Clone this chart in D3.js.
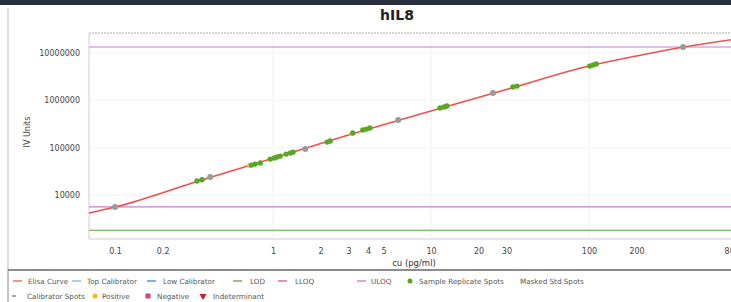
<!DOCTYPE html>
<html>
<head>
<meta charset="utf-8">
<script src="https://cdn.jsdelivr.net/npm/d3@7"></script>
<style>
  body { margin: 0; background: #fff; }
  svg { display: block; font-family: "DejaVu Sans", Verdana, sans-serif; }
</style>
</head>
<body>
<div id="chart"></div>
<script>
var svgWidth = 731;
var svgHeight = 302;

var margin = { top: 33, right: -16, bottom: 63, left: 89 };
var chartWidth = svgWidth - margin.left - margin.right;
var chartHeight = svgHeight - margin.top - margin.bottom;

// data
var xTicks = [0.1, 0.2, 1, 2, 3, 4, 5, 10, 20, 30, 100, 200, 800];
var yTicks = [10000, 100000, 1000000, 10000000];

var curveConc   = [0.0684, 0.1, 0.35, 1, 3, 10, 30, 100, 200, 400, 1000];
var curveSignal = [4140, 5550, 20600, 59800, 185000, 594000, 1690000, 5300000, 8650000, 13400000, 21400000];

var sampleConc   = [0.33, 0.355, 0.73, 0.77, 0.83, 0.96, 1.02, 1.06, 1.11, 1.21, 1.29, 1.34, 2.2, 2.3, 3.2, 3.7, 3.9, 4.1, 11.4, 12.1, 12.6, 33, 35, 101, 106, 111];
var sampleSignal = [19700, 21000, 42800, 45000, 47300, 57400, 60300, 63300, 66300, 73200, 76900, 80700, 131000, 138000, 204000, 236000, 247000, 260000, 688000, 722000, 758000, 1910000, 2000000, 5300000, 5580000, 5850000];

var calibConc   = [0.1, 0.4, 1.6, 6.2, 24.7, 394];
var calibSignal = [5550, 23900, 93400, 384000, 1430000, 13400000];

var positiveConc   = [0.71, 3.15];
var positiveSignal = [42000, 200000];

var uloq = 13400000;
var lloq = 5600;
var lod = 1800;

var svg = d3.select("#chart")
    .append("svg")
    .attr("width", svgWidth)
    .attr("height", svgHeight);

// top dark strip and panel frame
svg.append("rect").attr("x", 0).attr("y", 0).attr("width", svgWidth).attr("height", 5).attr("fill", "#2b3040");
svg.append("line").attr("x1", 8).attr("x2", 8).attr("y1", 8).attr("y2", 270).attr("stroke", "#bbb");

svg.append("text")
    .attr("x", 397)
    .attr("y", 20)
    .attr("text-anchor", "middle")
    .attr("font-size", 14)
    .attr("font-weight", "bold")
    .attr("fill", "#222")
    .text("hIL8");

var chartGroup = svg.append("g")
    .attr("transform", `translate(${margin.left}, ${margin.top})`);

var xLogScale = d3.scaleLog()
    .domain([0.0684, 1000])
    .range([0, chartWidth]);

var yLogScale = d3.scaleLog()
    .domain([1175, 26500000])
    .range([chartHeight, 0]);

// faint grid
chartGroup.append("g")
    .selectAll("line")
    .data([1, 10, 100])
    .enter()
    .append("line")
    .attr("x1", d => xLogScale(d))
    .attr("x2", d => xLogScale(d))
    .attr("y1", 0)
    .attr("y2", chartHeight)
    .attr("stroke", "#f0f0f0");

chartGroup.append("g")
    .selectAll("line")
    .data(yTicks)
    .enter()
    .append("line")
    .attr("x1", 0)
    .attr("x2", chartWidth)
    .attr("y1", d => yLogScale(d))
    .attr("y2", d => yLogScale(d))
    .attr("stroke", "#f3f3f3");

// frame
chartGroup.append("line").attr("x1", 0).attr("x2", chartWidth).attr("y1", 0).attr("y2", 0)
    .attr("stroke", "#aaa").attr("stroke-dasharray", "2,1");
chartGroup.append("line").attr("x1", 0).attr("x2", chartWidth).attr("y1", chartHeight).attr("y2", chartHeight)
    .attr("stroke", "#ccc");
chartGroup.append("line").attr("x1", 0).attr("x2", 0).attr("y1", 0).attr("y2", chartHeight)
    .attr("stroke", "#d8c8d0");

var bottomAxis = d3.axisBottom(xLogScale)
    .tickValues(xTicks)
    .tickFormat(d => d)
    .tickSize(0)
    .tickPadding(9);

var leftAxis = d3.axisLeft(yLogScale)
    .tickValues(yTicks)
    .tickFormat(d3.format("d"))
    .tickSize(0)
    .tickPadding(9);

var xAxis = chartGroup.append("g")
    .attr("transform", `translate(0, ${chartHeight})`)
    .call(bottomAxis);

var yAxis = chartGroup.append("g")
    .call(leftAxis);

[xAxis, yAxis].forEach(function(axis) {
    axis.select(".domain").remove();
    axis.selectAll("text")
        .attr("font-family", "DejaVu Sans, sans-serif")
        .attr("font-size", 8)
        .attr("fill", "#444");
});

chartGroup.append("text")
    .attr("x", chartWidth / 2 - 4)
    .attr("y", chartHeight + 27)
    .attr("text-anchor", "middle")
    .attr("font-size", 8.5)
    .attr("fill", "#333")
    .text("cu (pg/ml)");

chartGroup.append("text")
    .attr("transform", "rotate(-90)")
    .attr("x", -(chartHeight / 2) + 4)
    .attr("y", -59)
    .attr("text-anchor", "middle")
    .attr("font-size", 8)
    .attr("fill", "#444")
    .text("IV Units");

// reference lines
var refLines = [
    { v: uloq, color: "#c77ccf" },
    { v: lloq, color: "#c77ccf" },
    { v: lod, color: "#55aa33" }
];
chartGroup.append("g")
    .selectAll("line")
    .data(refLines)
    .enter()
    .append("line")
    .attr("x1", 0)
    .attr("x2", chartWidth)
    .attr("y1", d => yLogScale(d.v))
    .attr("y2", d => yLogScale(d.v))
    .attr("stroke", d => d.color)
    .attr("stroke-width", 1.1);

// elisa curve
var curveData = curveConc.map((c, i) => ({ x: c, y: curveSignal[i] }));
var createLine = d3.line()
    .x(d => xLogScale(d.x))
    .y(d => yLogScale(d.y))
    .curve(d3.curveMonotoneX);

chartGroup.append("path")
    .attr("fill", "none")
    .attr("stroke", "#f0504a")
    .attr("stroke-width", 1.6)
    .attr("d", createLine(curveData));

// spots
chartGroup.append("g")
    .selectAll("circle")
    .data(positiveConc.map((c, i) => ({ x: c, y: positiveSignal[i] })))
    .enter()
    .append("circle")
    .attr("cx", d => xLogScale(d.x))
    .attr("cy", d => yLogScale(d.y))
    .attr("r", 2.5)
    .attr("fill", "#f2c230");

chartGroup.append("g")
    .selectAll("circle")
    .data(calibConc.map((c, i) => ({ x: c, y: calibSignal[i] })))
    .enter()
    .append("circle")
    .attr("cx", d => xLogScale(d.x))
    .attr("cy", d => yLogScale(d.y))
    .attr("r", 3)
    .attr("fill", "#9a9a9a");

chartGroup.append("g")
    .selectAll("circle")
    .data(sampleConc.map((c, i) => ({ x: c, y: sampleSignal[i] })))
    .enter()
    .append("circle")
    .attr("cx", d => xLogScale(d.x))
    .attr("cy", d => yLogScale(d.y))
    .attr("r", 2.7)
    .attr("fill", "#5aa624");

// legend
var legend = svg.append("g");
legend.append("line").attr("x1", 8).attr("x2", svgWidth).attr("y1", 270).attr("y2", 270)
    .attr("stroke", "#666").attr("stroke-width", 1.5);
legend.append("line").attr("x1", 8).attr("x2", 8).attr("y1", 270).attr("y2", svgHeight)
    .attr("stroke", "#888");

var legendRow1 = [
    { name: "Elisa Curve", color: "#f05545", x: 13, tx: 28, kind: "line" },
    { name: "Top Calibrator", color: "#7fb2e0", x: 72, tx: 87, kind: "line" },
    { name: "Low Calibrator", color: "#3d85c6", x: 147, tx: 163, kind: "line" },
    { name: "LOD", color: "#55aa33", x: 233, tx: 250, kind: "line" },
    { name: "LLOQ", color: "#e0509a", x: 278, tx: 295, kind: "line" },
    { name: "ULOQ", color: "#e070b0", x: 357, tx: 371, kind: "line" },
    { name: "Sample Replicate Spots", color: "#5aa624", x: 410, tx: 419, kind: "dot" },
    { name: "Masked Std Spots", color: "none", x: 510, tx: 520, kind: "none" }
];
var legendRow2 = [
    { name: "Calibrator Spots", color: "#888", x: 12, tx: 27, kind: "dash" },
    { name: "Positive", color: "#f2b820", x: 95, tx: 102, kind: "dot" },
    { name: "Negative", color: "#d8407a", x: 148, tx: 157, kind: "square" },
    { name: "Indeterminant", color: "#d02020", x: 203, tx: 213, kind: "triangle" }
];

function drawLegendRow(items, y) {
    items.forEach(function(item) {
        if (item.kind === "line") {
            legend.append("line").attr("x1", item.x).attr("x2", item.x + 9)
                .attr("y1", y - 3).attr("y2", y - 3)
                .attr("stroke", item.color).attr("stroke-width", 1.3);
        } else if (item.kind === "dash") {
            legend.append("line").attr("x1", item.x).attr("x2", item.x + 4)
                .attr("y1", y - 3).attr("y2", y - 3)
                .attr("stroke", item.color).attr("stroke-width", 1.5);
        } else if (item.kind === "dot") {
            legend.append("circle").attr("cx", item.x).attr("cy", y - 3).attr("r", 2.5)
                .attr("fill", item.color);
        } else if (item.kind === "square") {
            legend.append("rect").attr("x", item.x - 2.5).attr("y", y - 5.5)
                .attr("width", 5).attr("height", 5).attr("fill", item.color);
        } else if (item.kind === "triangle") {
            legend.append("path")
                .attr("d", d3.symbol().type(d3.symbolTriangle).size(22))
                .attr("transform", `translate(${item.x}, ${y - 3}) rotate(180)`)
                .attr("fill", item.color);
        }
        legend.append("text")
            .attr("x", item.tx)
            .attr("y", y)
            .attr("font-size", 7.2)
            .attr("fill", "#555")
            .text(item.name);
    });
}

drawLegendRow(legendRow1, 284);
drawLegendRow(legendRow2, 299);
</script>
</body>
</html>
